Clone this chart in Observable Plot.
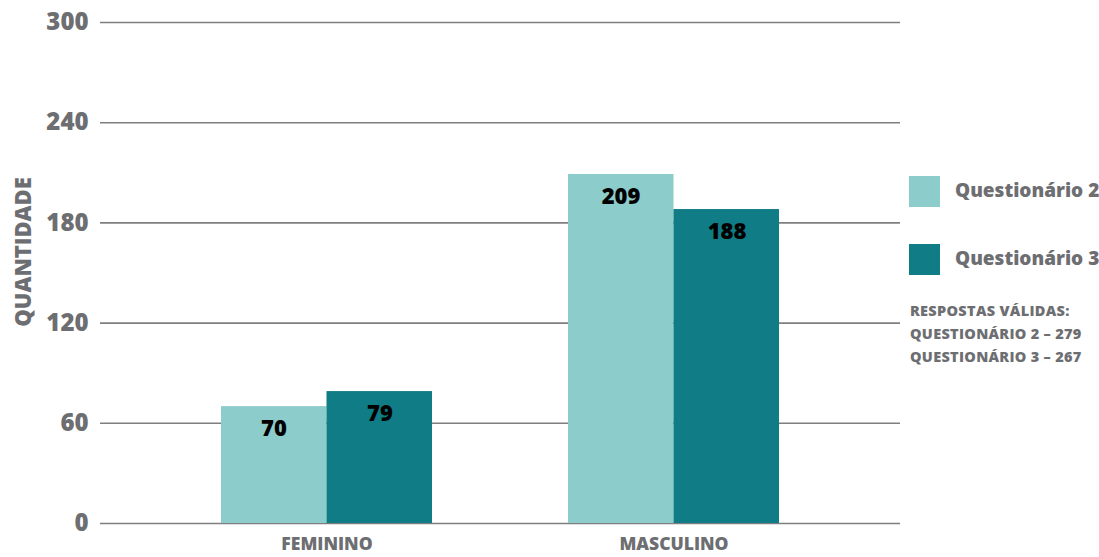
<!DOCTYPE html>
<html>
<head>
<meta charset="utf-8">
<script src="https://cdn.jsdelivr.net/npm/d3@7"></script>
<script src="https://cdn.jsdelivr.net/npm/@observablehq/plot@0.6"></script>
<style>
  html, body { margin: 0; padding: 0; background: #fff; }
  #wrap { position: relative; width: 1099px; height: 557px; font-family: "Open Sans", "Noto Sans", sans-serif; }
  #wrap svg { font-weight: 800; }
  .leg { position: absolute; left: 909px; width: 31px; height: 31px; }
  .legt { position: absolute; left: 955px; font-size: 19px; font-weight: 800; color: #6d6e71; line-height: 1; white-space: nowrap; }
  .note { position: absolute; left: 910px; top: 299px; font-size: 14.5px; font-weight: 800; color: #6d6e71; line-height: 23px; white-space: nowrap; letter-spacing: 0.3px; }
</style>
</head>
<body>
<div id="wrap"></div>
<script>
const categories = ["FEMININO", "MASCULINO"];
const series = ["Questionário 2", "Questionário 3"];
const q2Values = [70, 209];
const q3Values = [79, 188];
const yTicks = [0, 60, 120, 180, 240, 300];
const colors = ["#8ccccb", "#0f7c86"];
const validNotes = ["RESPOSTAS VÁLIDAS:", "QUESTIONÁRIO 2 – 279", "QUESTIONÁRIO 3 – 267"];
const yLabel = "QUANTIDADE";

const rows = [];
categories.forEach((c, i) => {
  rows.push({category: c, series: series[0], value: q2Values[i]});
  rows.push({category: c, series: series[1], value: q3Values[i]});
});
const rowsQ2 = rows.filter(d => d.series === series[0]);
const rowsQ3 = rows.filter(d => d.series === series[1]);

const half = 105.5;
const gray = "#6d6e71";

const chart = Plot.plot({
  width: 1099,
  height: 557,
  marginLeft: 100,
  marginRight: 199,
  marginTop: 22,
  marginBottom: 34,
  style: {fontFamily: "'Open Sans', 'Noto Sans', sans-serif", background: "#fff"},
  x: {domain: categories, paddingInner: 0.391, paddingOuter: 0.345, align: 0.5},
  y: {domain: [0, 300]},
  color: {domain: series, range: colors},
  marks: [
    Plot.ruleY(yTicks, {stroke: "#7f7f7f", strokeWidth: 1.6}),
    Plot.barY(rowsQ2, {x: "category", y: "value", fill: "series", insetRight: half}),
    Plot.barY(rowsQ3, {x: "category", y: "value", fill: "series", insetLeft: half}),
    Plot.text(rowsQ2, {x: "category", y: "value", text: d => String(d.value), dx: -53, dy: 22, fontSize: 22, fontWeight: 800, fill: "#000"}),
    Plot.text(rowsQ3, {x: "category", y: "value", text: d => String(d.value), dx: 53, dy: 22, fontSize: 22, fontWeight: 800, fill: "#000"}),
    Plot.axisY({ticks: yTicks, tickSize: 0, tickPadding: 12, fontSize: 24, fontWeight: 800, fill: gray, label: null}),
    Plot.text([yLabel], {frameAnchor: "left", textAnchor: "middle", text: d => d, rotate: -90, dx: -77, dy: -21, fontSize: 22, fontWeight: 800, fill: gray}),
    Plot.axisX({tickSize: 0, tickPadding: 14, fontSize: 17.5, fontWeight: 800, fill: gray, label: null})
  ]
});
const wrap = document.getElementById("wrap");
wrap.appendChild(chart);

// legend overlay
const legTops = [176, 244];
series.forEach((s, i) => {
  const sq = document.createElement("div");
  sq.className = "leg";
  sq.style.top = legTops[i] + "px";
  sq.style.background = colors[i];
  wrap.appendChild(sq);
  const t = document.createElement("div");
  t.className = "legt";
  t.style.top = (legTops[i] + 5) + "px";
  t.textContent = s;
  wrap.appendChild(t);
});
const note = document.createElement("div");
note.className = "note";
note.innerHTML = validNotes.join("<br>");
wrap.appendChild(note);
</script>
</body>
</html>
